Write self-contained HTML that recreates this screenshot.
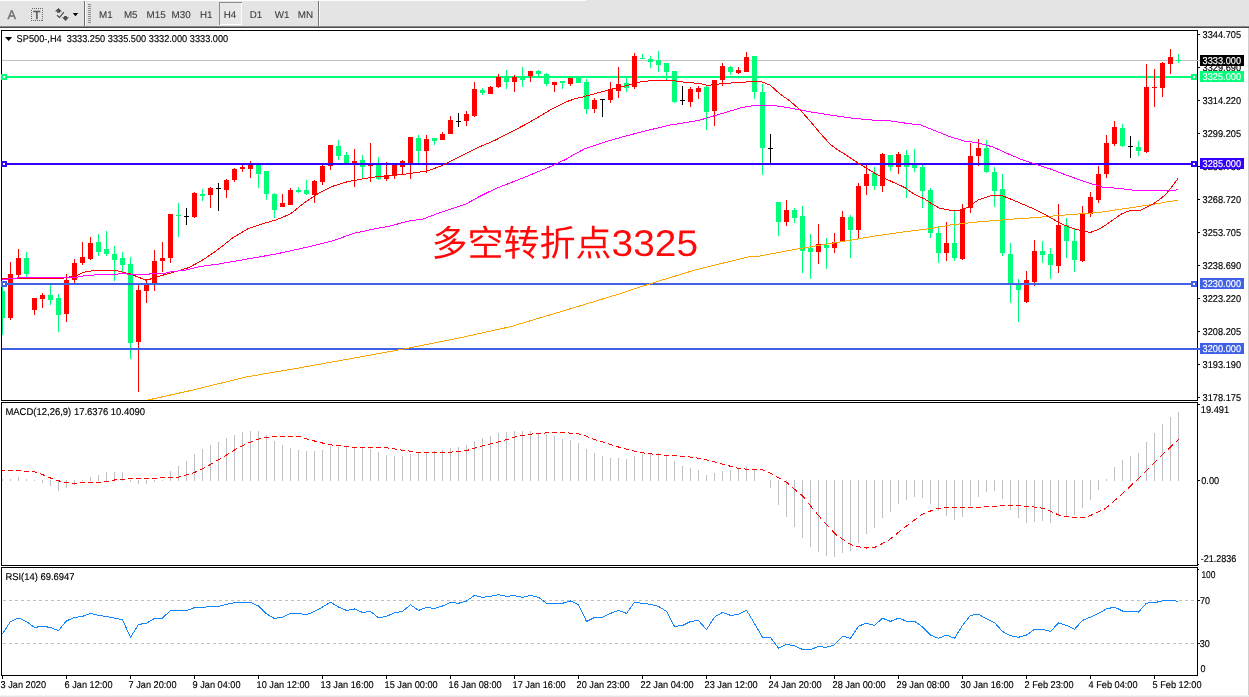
<!DOCTYPE html>
<html><head><meta charset="utf-8"><title>SP500-,H4</title>
<style>
html,body{margin:0;padding:0;background:#fff}
body{width:1249px;height:697px;overflow:hidden}
svg{display:block;will-change:transform;transform:translateZ(0)}
text{font-family:"Liberation Sans","Noto Sans CJK SC",sans-serif;font-size:9px;fill:#000;stroke:#000;stroke-width:.15px;text-rendering:geometricPrecision}
.cr{shape-rendering:crispEdges}
.tb{fill:#3c3c3c;stroke:#3c3c3c;stroke-width:.1px}
.w{fill:#fff;stroke:#fff}
</style></head><body>
<svg width="1249" height="697" viewBox="0 0 1249 697">
<rect x="0" y="0" width="1249" height="697" fill="#fff"/>
<g class="cr">
<rect x="0" y="0" width="1249" height="26" fill="#e4e4e4"/>
<rect x="0" y="0" width="586" height="1" fill="#fdfdfd"/>
<rect x="0" y="26" width="1249" height="1" fill="#8a8a8a"/>
<rect x="0" y="27" width="1249" height="1" fill="#4a4a4a"/>
<rect x="0" y="695" width="1249" height="1" fill="#f4f4f4"/><rect x="0" y="696" width="1249" height="1" fill="#e6e6e6"/>
<rect x="1248" y="28" width="1" height="667" fill="#d0d0d0"/>
<rect x="84" y="1" width="1" height="25" fill="#707070"/><rect x="85" y="1" width="1" height="25" fill="#fafafa"/>
<rect x="318" y="1" width="1" height="25" fill="#757575"/><rect x="319" y="1" width="1" height="25" fill="#fafafa"/>
<rect x="88" y="4" width="3" height="1" fill="#8c8c8c"/><rect x="88" y="6" width="3" height="1" fill="#8c8c8c"/><rect x="88" y="8" width="3" height="1" fill="#8c8c8c"/><rect x="88" y="10" width="3" height="1" fill="#8c8c8c"/><rect x="88" y="12" width="3" height="1" fill="#8c8c8c"/><rect x="88" y="14" width="3" height="1" fill="#8c8c8c"/><rect x="88" y="16" width="3" height="1" fill="#8c8c8c"/><rect x="88" y="18" width="3" height="1" fill="#8c8c8c"/><rect x="88" y="20" width="3" height="1" fill="#8c8c8c"/><rect x="88" y="22" width="3" height="1" fill="#8c8c8c"/>
<rect x="219" y="2" width="23" height="23" fill="#e8e8e8"/><rect x="219" y="2" width="23" height="1" fill="#8c8c8c"/><rect x="219" y="2" width="1" height="23" fill="#8c8c8c"/><rect x="241" y="3" width="1" height="22" fill="#fff"/><rect x="220" y="24" width="22" height="1" fill="#fff"/>
</g>
<text x="7.6" y="19" style="font-size:12.6px;fill:#6e6e6e;stroke:#6e6e6e;stroke-width:.35">A</text>
<rect class="cr" x="31.5" y="8.5" width="11" height="12" fill="none" stroke="#666" stroke-width="1" stroke-dasharray="1 1"/>
<text x="33.2" y="18.8" style="font-size:11.5px;fill:#5a5a5a;stroke:#5a5a5a;stroke-width:.5">T</text>
<path d="M58.5 8 L62 11.6 L60 11.6 L60 12.7 L57.1 12.7 L57.1 11.6 L54.9 11.6 Z" fill="#4d4d4d"/>
<path d="M65.5 20.9 L69 17.2 L66.9 17.2 L66.9 16 L64.1 16 L64.1 17.2 L62 17.2 Z" fill="#4d4d4d"/>
<path d="M57 15.3 L59.5 17.4 L63.9 12.2" fill="none" stroke="#4d4d4d" stroke-width="1.2"/>
<path d="M72.8 13.1 L78.2 13.1 L75.5 16.2 Z" fill="#000"/>
<text class="tb" x="99.0" y="17.9" textLength="13.6" lengthAdjust="spacingAndGlyphs" style="font-size:9.9px">M1</text><text class="tb" x="123.9" y="17.9" textLength="13.6" lengthAdjust="spacingAndGlyphs" style="font-size:9.9px">M5</text><text class="tb" x="146.5" y="17.9" textLength="19.1" lengthAdjust="spacingAndGlyphs" style="font-size:9.9px">M15</text><text class="tb" x="171.5" y="17.9" textLength="19.1" lengthAdjust="spacingAndGlyphs" style="font-size:9.9px">M30</text><text class="tb" x="199.89999999999998" y="17.9" textLength="12.5" lengthAdjust="spacingAndGlyphs" style="font-size:9.9px">H1</text><text class="tb" x="223.7" y="17.9" textLength="12.5" lengthAdjust="spacingAndGlyphs" style="font-size:9.9px">H4</text><text class="tb" x="249.7" y="17.9" textLength="12.5" lengthAdjust="spacingAndGlyphs" style="font-size:9.9px">D1</text><text class="tb" x="274.7" y="17.9" textLength="14.7" lengthAdjust="spacingAndGlyphs" style="font-size:9.9px">W1</text><text class="tb" x="297.7" y="17.9" textLength="15.3" lengthAdjust="spacingAndGlyphs" style="font-size:9.9px">MN</text>
<g class="cr" fill="none" stroke="#000" stroke-width="1">
<path d="M1.5 401 V30.5 H1197.5 V401 M1 400.5 H1198"/>
<path d="M1.5 566 V402.5 H1197.5 V566 M1 565.5 H1198"/>
<path d="M1.5 676 V567.5 H1197.5 V676 M1 675.5 H1198"/>
</g>
<defs><clipPath id="cm"><rect x="2" y="31" width="1195" height="369"/></clipPath></defs>
<g class="cr">
<rect x="2" y="60" width="1198" height="1" fill="#c0c0c0"/>
<rect x="2" y="76" width="1195" height="2" fill="#00ff78"/>
<rect x="1191" y="74" width="6" height="6" fill="#00ff78"/><rect x="1193" y="76" width="2" height="2" fill="#fff"/><rect x="1" y="74" width="6" height="6" fill="#00ff78"/><rect x="3" y="76" width="2" height="2" fill="#fff"/>
<rect x="2" y="287" width="1" height="48" fill="#00ff78"/><rect x="2" y="291" width="3" height="27" fill="#00ff78"/><rect x="10" y="262" width="1" height="58" fill="#ff0000"/><rect x="8" y="274" width="5" height="44" fill="#ff0000"/><rect x="18" y="249" width="1" height="29" fill="#ff0000"/><rect x="16" y="258" width="5" height="17" fill="#ff0000"/><rect x="26" y="252" width="1" height="25" fill="#00ff78"/><rect x="24" y="258" width="5" height="16" fill="#00ff78"/><rect x="34" y="298" width="1" height="17" fill="#ff0000"/><rect x="32" y="298" width="5" height="12" fill="#ff0000"/><rect x="42" y="293" width="1" height="15" fill="#ff0000"/><rect x="40" y="295" width="5" height="4" fill="#ff0000"/><rect x="50" y="285" width="1" height="20" fill="#00ff78"/><rect x="48" y="295" width="5" height="5" fill="#00ff78"/><rect x="58" y="294" width="1" height="38" fill="#00ff78"/><rect x="56" y="298" width="5" height="17" fill="#00ff78"/><rect x="66" y="274" width="1" height="48" fill="#ff0000"/><rect x="64" y="280" width="5" height="34" fill="#ff0000"/><rect x="74" y="259" width="1" height="24" fill="#ff0000"/><rect x="72" y="263" width="5" height="17" fill="#ff0000"/><rect x="82" y="242" width="1" height="23" fill="#ff0000"/><rect x="80" y="257" width="5" height="6" fill="#ff0000"/><rect x="90" y="237" width="1" height="23" fill="#ff0000"/><rect x="88" y="243" width="5" height="16" fill="#ff0000"/><rect x="98" y="234" width="1" height="22" fill="#00ff78"/><rect x="96" y="242" width="5" height="10" fill="#00ff78"/><rect x="106" y="231" width="1" height="25" fill="#00ff78"/><rect x="104" y="249" width="5" height="5" fill="#00ff78"/><rect x="114" y="246" width="1" height="35" fill="#00ff78"/><rect x="112" y="254" width="5" height="6" fill="#00ff78"/><rect x="122" y="252" width="1" height="21" fill="#00ff78"/><rect x="120" y="258" width="5" height="7" fill="#00ff78"/><rect x="130" y="257" width="1" height="102" fill="#00ff78"/><rect x="128" y="264" width="5" height="79" fill="#00ff78"/><rect x="138" y="285" width="1" height="107" fill="#ff0000"/><rect x="136" y="290" width="5" height="52" fill="#ff0000"/><rect x="146" y="279" width="1" height="24" fill="#ff0000"/><rect x="144" y="283" width="5" height="8" fill="#ff0000"/><rect x="154" y="250" width="1" height="41" fill="#ff0000"/><rect x="152" y="261" width="5" height="23" fill="#ff0000"/><rect x="162" y="242" width="1" height="30" fill="#ff0000"/><rect x="160" y="258" width="5" height="3" fill="#ff0000"/><rect x="170" y="214" width="1" height="49" fill="#ff0000"/><rect x="168" y="214" width="5" height="44" fill="#ff0000"/><rect x="178" y="203" width="1" height="34" fill="#00ff78"/><rect x="176" y="215" width="5" height="1" fill="#00ff78"/><rect x="186" y="208" width="1" height="17" fill="#000000"/><rect x="184" y="216" width="5" height="1" fill="#000000"/><rect x="194" y="192" width="1" height="26" fill="#ff0000"/><rect x="192" y="193" width="5" height="24" fill="#ff0000"/><rect x="202" y="189" width="1" height="12" fill="#00ff78"/><rect x="200" y="194" width="5" height="2" fill="#00ff78"/><rect x="210" y="187" width="1" height="21" fill="#ff0000"/><rect x="208" y="188" width="5" height="7" fill="#ff0000"/><rect x="218" y="183" width="1" height="28" fill="#000000"/><rect x="216" y="188" width="5" height="1" fill="#000000"/><rect x="226" y="179" width="1" height="19" fill="#ff0000"/><rect x="224" y="180" width="5" height="10" fill="#ff0000"/><rect x="234" y="168" width="1" height="14" fill="#ff0000"/><rect x="232" y="169" width="5" height="11" fill="#ff0000"/><rect x="242" y="164" width="1" height="8" fill="#ff0000"/><rect x="240" y="167" width="5" height="2" fill="#ff0000"/><rect x="250" y="161" width="1" height="17" fill="#ff0000"/><rect x="248" y="164" width="5" height="5" fill="#ff0000"/><rect x="258" y="164" width="1" height="24" fill="#00ff78"/><rect x="256" y="164" width="5" height="10" fill="#00ff78"/><rect x="266" y="171" width="1" height="29" fill="#00ff78"/><rect x="264" y="171" width="5" height="23" fill="#00ff78"/><rect x="274" y="193" width="1" height="25" fill="#00ff78"/><rect x="272" y="194" width="5" height="16" fill="#00ff78"/><rect x="282" y="194" width="1" height="13" fill="#ff0000"/><rect x="280" y="203" width="5" height="4" fill="#ff0000"/><rect x="290" y="188" width="1" height="17" fill="#ff0000"/><rect x="288" y="190" width="5" height="15" fill="#ff0000"/><rect x="298" y="187" width="1" height="6" fill="#00ff78"/><rect x="296" y="190" width="5" height="2" fill="#00ff78"/><rect x="306" y="180" width="1" height="15" fill="#00ff78"/><rect x="304" y="190" width="5" height="4" fill="#00ff78"/><rect x="314" y="180" width="1" height="23" fill="#ff0000"/><rect x="312" y="181" width="5" height="14" fill="#ff0000"/><rect x="322" y="165" width="1" height="20" fill="#ff0000"/><rect x="320" y="166" width="5" height="16" fill="#ff0000"/><rect x="330" y="145" width="1" height="25" fill="#ff0000"/><rect x="328" y="145" width="5" height="21" fill="#ff0000"/><rect x="338" y="140" width="1" height="20" fill="#00ff78"/><rect x="336" y="146" width="5" height="10" fill="#00ff78"/><rect x="346" y="152" width="1" height="12" fill="#00ff78"/><rect x="344" y="155" width="5" height="9" fill="#00ff78"/><rect x="354" y="149" width="1" height="38" fill="#ff0000"/><rect x="352" y="161" width="5" height="2" fill="#ff0000"/><rect x="362" y="155" width="1" height="23" fill="#00ff78"/><rect x="360" y="160" width="5" height="7" fill="#00ff78"/><rect x="370" y="143" width="1" height="39" fill="#ff0000"/><rect x="368" y="164" width="5" height="2" fill="#ff0000"/><rect x="378" y="157" width="1" height="23" fill="#00ff78"/><rect x="376" y="164" width="5" height="15" fill="#00ff78"/><rect x="386" y="162" width="1" height="19" fill="#ff0000"/><rect x="384" y="175" width="5" height="4" fill="#ff0000"/><rect x="394" y="164" width="1" height="15" fill="#ff0000"/><rect x="392" y="165" width="5" height="11" fill="#ff0000"/><rect x="402" y="160" width="1" height="15" fill="#ff0000"/><rect x="400" y="161" width="5" height="6" fill="#ff0000"/><rect x="410" y="137" width="1" height="42" fill="#ff0000"/><rect x="408" y="137" width="5" height="28" fill="#ff0000"/><rect x="418" y="135" width="1" height="29" fill="#00ff78"/><rect x="416" y="138" width="5" height="13" fill="#00ff78"/><rect x="426" y="135" width="1" height="38" fill="#ff0000"/><rect x="424" y="139" width="5" height="12" fill="#ff0000"/><rect x="434" y="138" width="1" height="7" fill="#00ff78"/><rect x="432" y="138" width="5" height="3" fill="#00ff78"/><rect x="442" y="132" width="1" height="8" fill="#ff0000"/><rect x="440" y="134" width="5" height="6" fill="#ff0000"/><rect x="450" y="116" width="1" height="18" fill="#ff0000"/><rect x="448" y="120" width="5" height="14" fill="#ff0000"/><rect x="458" y="113" width="1" height="14" fill="#000000"/><rect x="456" y="121" width="5" height="1" fill="#000000"/><rect x="466" y="111" width="1" height="15" fill="#ff0000"/><rect x="464" y="114" width="5" height="7" fill="#ff0000"/><rect x="474" y="82" width="1" height="35" fill="#ff0000"/><rect x="472" y="89" width="5" height="27" fill="#ff0000"/><rect x="482" y="88" width="1" height="7" fill="#00ff78"/><rect x="480" y="90" width="5" height="3" fill="#00ff78"/><rect x="490" y="86" width="1" height="8" fill="#ff0000"/><rect x="488" y="87" width="5" height="7" fill="#ff0000"/><rect x="498" y="74" width="1" height="14" fill="#ff0000"/><rect x="496" y="77" width="5" height="10" fill="#ff0000"/><rect x="506" y="70" width="1" height="19" fill="#00ff78"/><rect x="504" y="77" width="5" height="5" fill="#00ff78"/><rect x="514" y="75" width="1" height="17" fill="#ff0000"/><rect x="512" y="77" width="5" height="5" fill="#ff0000"/><rect x="522" y="67" width="1" height="20" fill="#00ff78"/><rect x="520" y="77" width="5" height="3" fill="#00ff78"/><rect x="530" y="71" width="1" height="11" fill="#ff0000"/><rect x="528" y="71" width="5" height="5" fill="#ff0000"/><rect x="538" y="70" width="1" height="6" fill="#00ff78"/><rect x="536" y="71" width="5" height="3" fill="#00ff78"/><rect x="546" y="73" width="1" height="13" fill="#00ff78"/><rect x="544" y="74" width="5" height="10" fill="#00ff78"/><rect x="554" y="82" width="1" height="10" fill="#ff0000"/><rect x="552" y="82" width="5" height="3" fill="#ff0000"/><rect x="562" y="81" width="1" height="8" fill="#00ff78"/><rect x="560" y="81" width="5" height="2" fill="#00ff78"/><rect x="570" y="78" width="1" height="8" fill="#ff0000"/><rect x="568" y="78" width="5" height="6" fill="#ff0000"/><rect x="578" y="77" width="1" height="6" fill="#00ff78"/><rect x="576" y="77" width="5" height="6" fill="#00ff78"/><rect x="586" y="79" width="1" height="35" fill="#00ff78"/><rect x="584" y="82" width="5" height="27" fill="#00ff78"/><rect x="594" y="98" width="1" height="15" fill="#ff0000"/><rect x="592" y="100" width="5" height="9" fill="#ff0000"/><rect x="602" y="99" width="1" height="18" fill="#000000"/><rect x="600" y="99" width="5" height="1" fill="#000000"/><rect x="610" y="82" width="1" height="21" fill="#ff0000"/><rect x="608" y="89" width="5" height="11" fill="#ff0000"/><rect x="618" y="67" width="1" height="31" fill="#ff0000"/><rect x="616" y="84" width="5" height="7" fill="#ff0000"/><rect x="626" y="77" width="1" height="15" fill="#00ff78"/><rect x="624" y="83" width="5" height="5" fill="#00ff78"/><rect x="634" y="53" width="1" height="36" fill="#ff0000"/><rect x="632" y="56" width="5" height="31" fill="#ff0000"/><rect x="642" y="54" width="1" height="5" fill="#00ff78"/><rect x="640" y="58" width="5" height="1" fill="#00ff78"/><rect x="650" y="56" width="1" height="12" fill="#00ff78"/><rect x="648" y="59" width="5" height="3" fill="#00ff78"/><rect x="658" y="51" width="1" height="21" fill="#00ff78"/><rect x="656" y="60" width="5" height="5" fill="#00ff78"/><rect x="666" y="63" width="1" height="17" fill="#00ff78"/><rect x="664" y="63" width="5" height="9" fill="#00ff78"/><rect x="674" y="71" width="1" height="32" fill="#00ff78"/><rect x="672" y="71" width="5" height="31" fill="#00ff78"/><rect x="682" y="86" width="1" height="19" fill="#000000"/><rect x="680" y="100" width="5" height="1" fill="#000000"/><rect x="690" y="87" width="1" height="20" fill="#ff0000"/><rect x="688" y="89" width="5" height="13" fill="#ff0000"/><rect x="698" y="86" width="1" height="13" fill="#ff0000"/><rect x="696" y="88" width="5" height="4" fill="#ff0000"/><rect x="706" y="85" width="1" height="45" fill="#00ff78"/><rect x="704" y="87" width="5" height="25" fill="#00ff78"/><rect x="714" y="80" width="1" height="46" fill="#ff0000"/><rect x="712" y="80" width="5" height="31" fill="#ff0000"/><rect x="722" y="63" width="1" height="23" fill="#ff0000"/><rect x="720" y="66" width="5" height="14" fill="#ff0000"/><rect x="730" y="66" width="1" height="9" fill="#00ff78"/><rect x="728" y="67" width="5" height="5" fill="#00ff78"/><rect x="738" y="67" width="1" height="7" fill="#ff0000"/><rect x="736" y="70" width="5" height="3" fill="#ff0000"/><rect x="746" y="52" width="1" height="20" fill="#ff0000"/><rect x="744" y="57" width="5" height="15" fill="#ff0000"/><rect x="754" y="56" width="1" height="43" fill="#00ff78"/><rect x="752" y="56" width="5" height="36" fill="#00ff78"/><rect x="762" y="84" width="1" height="91" fill="#00ff78"/><rect x="760" y="92" width="5" height="56" fill="#00ff78"/><rect x="770" y="134" width="1" height="29" fill="#000000"/><rect x="768" y="148" width="5" height="1" fill="#000000"/><rect x="778" y="202" width="1" height="34" fill="#00ff78"/><rect x="776" y="202" width="5" height="20" fill="#00ff78"/><rect x="786" y="200" width="1" height="26" fill="#ff0000"/><rect x="784" y="210" width="5" height="12" fill="#ff0000"/><rect x="794" y="208" width="1" height="15" fill="#00ff78"/><rect x="792" y="210" width="5" height="8" fill="#00ff78"/><rect x="802" y="206" width="1" height="67" fill="#00ff78"/><rect x="800" y="216" width="5" height="35" fill="#00ff78"/><rect x="810" y="234" width="1" height="45" fill="#00ff78"/><rect x="808" y="248" width="5" height="4" fill="#00ff78"/><rect x="818" y="224" width="1" height="40" fill="#ff0000"/><rect x="816" y="244" width="5" height="8" fill="#ff0000"/><rect x="826" y="238" width="1" height="31" fill="#00ff78"/><rect x="824" y="245" width="5" height="3" fill="#00ff78"/><rect x="834" y="233" width="1" height="20" fill="#ff0000"/><rect x="832" y="242" width="5" height="6" fill="#ff0000"/><rect x="842" y="211" width="1" height="31" fill="#ff0000"/><rect x="840" y="217" width="5" height="25" fill="#ff0000"/><rect x="850" y="215" width="1" height="43" fill="#00ff78"/><rect x="848" y="217" width="5" height="13" fill="#00ff78"/><rect x="858" y="183" width="1" height="55" fill="#ff0000"/><rect x="856" y="186" width="5" height="44" fill="#ff0000"/><rect x="866" y="164" width="1" height="31" fill="#ff0000"/><rect x="864" y="174" width="5" height="12" fill="#ff0000"/><rect x="874" y="167" width="1" height="23" fill="#00ff78"/><rect x="872" y="173" width="5" height="13" fill="#00ff78"/><rect x="882" y="153" width="1" height="39" fill="#ff0000"/><rect x="880" y="154" width="5" height="32" fill="#ff0000"/><rect x="890" y="155" width="1" height="16" fill="#00ff78"/><rect x="888" y="155" width="5" height="12" fill="#00ff78"/><rect x="898" y="152" width="1" height="22" fill="#ff0000"/><rect x="896" y="154" width="5" height="13" fill="#ff0000"/><rect x="906" y="150" width="1" height="48" fill="#00ff78"/><rect x="904" y="155" width="5" height="12" fill="#00ff78"/><rect x="914" y="149" width="1" height="23" fill="#00ff78"/><rect x="912" y="164" width="5" height="4" fill="#00ff78"/><rect x="922" y="165" width="1" height="43" fill="#00ff78"/><rect x="920" y="167" width="5" height="24" fill="#00ff78"/><rect x="930" y="188" width="1" height="50" fill="#00ff78"/><rect x="928" y="190" width="5" height="43" fill="#00ff78"/><rect x="938" y="226" width="1" height="37" fill="#00ff78"/><rect x="936" y="233" width="5" height="20" fill="#00ff78"/><rect x="946" y="222" width="1" height="39" fill="#ff0000"/><rect x="944" y="243" width="5" height="10" fill="#ff0000"/><rect x="954" y="210" width="1" height="51" fill="#00ff78"/><rect x="952" y="243" width="5" height="15" fill="#00ff78"/><rect x="962" y="204" width="1" height="56" fill="#ff0000"/><rect x="960" y="209" width="5" height="50" fill="#ff0000"/><rect x="970" y="143" width="1" height="70" fill="#ff0000"/><rect x="968" y="156" width="5" height="52" fill="#ff0000"/><rect x="978" y="139" width="1" height="27" fill="#ff0000"/><rect x="976" y="148" width="5" height="8" fill="#ff0000"/><rect x="986" y="140" width="1" height="33" fill="#00ff78"/><rect x="984" y="148" width="5" height="24" fill="#00ff78"/><rect x="994" y="167" width="1" height="40" fill="#00ff78"/><rect x="992" y="172" width="5" height="19" fill="#00ff78"/><rect x="1002" y="174" width="1" height="82" fill="#00ff78"/><rect x="1000" y="189" width="5" height="64" fill="#00ff78"/><rect x="1010" y="243" width="1" height="60" fill="#00ff78"/><rect x="1008" y="254" width="5" height="30" fill="#00ff78"/><rect x="1018" y="279" width="1" height="43" fill="#00ff78"/><rect x="1016" y="285" width="5" height="5" fill="#00ff78"/><rect x="1026" y="271" width="1" height="32" fill="#ff0000"/><rect x="1024" y="280" width="5" height="22" fill="#ff0000"/><rect x="1034" y="240" width="1" height="46" fill="#ff0000"/><rect x="1032" y="251" width="5" height="31" fill="#ff0000"/><rect x="1042" y="241" width="1" height="22" fill="#00ff78"/><rect x="1040" y="251" width="5" height="4" fill="#00ff78"/><rect x="1050" y="248" width="1" height="31" fill="#00ff78"/><rect x="1048" y="254" width="5" height="11" fill="#00ff78"/><rect x="1058" y="204" width="1" height="69" fill="#ff0000"/><rect x="1056" y="225" width="5" height="41" fill="#ff0000"/><rect x="1066" y="218" width="1" height="40" fill="#00ff78"/><rect x="1064" y="225" width="5" height="16" fill="#00ff78"/><rect x="1074" y="229" width="1" height="43" fill="#00ff78"/><rect x="1072" y="241" width="5" height="19" fill="#00ff78"/><rect x="1082" y="206" width="1" height="56" fill="#ff0000"/><rect x="1080" y="213" width="5" height="48" fill="#ff0000"/><rect x="1090" y="192" width="1" height="25" fill="#ff0000"/><rect x="1088" y="197" width="5" height="17" fill="#ff0000"/><rect x="1098" y="166" width="1" height="37" fill="#ff0000"/><rect x="1096" y="174" width="5" height="26" fill="#ff0000"/><rect x="1106" y="135" width="1" height="43" fill="#ff0000"/><rect x="1104" y="143" width="5" height="31" fill="#ff0000"/><rect x="1114" y="121" width="1" height="25" fill="#ff0000"/><rect x="1112" y="127" width="5" height="17" fill="#ff0000"/><rect x="1122" y="124" width="1" height="23" fill="#00ff78"/><rect x="1120" y="128" width="5" height="18" fill="#00ff78"/><rect x="1130" y="136" width="1" height="22" fill="#000000"/><rect x="1128" y="146" width="5" height="1" fill="#000000"/><rect x="1138" y="141" width="1" height="15" fill="#00ff78"/><rect x="1136" y="147" width="5" height="4" fill="#00ff78"/><rect x="1146" y="64" width="1" height="89" fill="#ff0000"/><rect x="1144" y="87" width="5" height="65" fill="#ff0000"/><rect x="1154" y="69" width="1" height="38" fill="#ff0000"/><rect x="1152" y="87" width="5" height="1" fill="#ff0000"/><rect x="1162" y="62" width="1" height="35" fill="#ff0000"/><rect x="1160" y="63" width="5" height="25" fill="#ff0000"/><rect x="1170" y="49" width="1" height="25" fill="#ff0000"/><rect x="1168" y="57" width="5" height="7" fill="#ff0000"/><rect x="1178" y="54" width="1" height="9" fill="#00ff78"/><rect x="1176" y="60" width="5" height="1" fill="#00ff78"/>
<rect x="2" y="163" width="1195" height="2" fill="#3300ff"/>
<rect x="2" y="283" width="1195" height="2" fill="#4060e6"/>
<rect x="2" y="348" width="1198" height="2" fill="#4060e6"/>
<rect x="1191" y="161" width="6" height="6" fill="#3300ff"/><rect x="1193" y="163" width="2" height="2" fill="#fff"/><rect x="1191" y="281" width="6" height="6" fill="#4060e6"/><rect x="1193" y="283" width="2" height="2" fill="#fff"/><rect x="1" y="161" width="6" height="6" fill="#3300ff"/><rect x="3" y="163" width="2" height="2" fill="#fff"/><rect x="1" y="281" width="6" height="6" fill="#4060e6"/><rect x="3" y="283" width="2" height="2" fill="#fff"/>
</g>
<g clip-path="url(#cm)">
<polyline points="148.0,400.0 193.0,390.0 246.0,377.0 298.6,368.0 351.0,358.6 404.0,349.0 457.0,338.5 510.0,326.8 563.0,311.0 615.7,295.0 652.7,283.0 695.0,270.0 748.0,257.0 760.0,256.0 788.7,250.5 817.4,245.6 846.0,241.0 874.8,236.0 903.5,231.9 932.0,228.4 950.0,225.0 978.7,221.8 1007.4,219.5 1036.0,217.5 1064.8,215.0 1093.5,212.9 1100.0,212.3 1117.2,209.7 1134.4,207.2 1151.6,204.6 1168.8,201.6 1178.0,200.3" fill="none" stroke="#ffa500" stroke-width="1" class="cr"/>
<polyline points="0.0,278.5 62.0,278.5 66.0,277.6 72.0,276.5 78.0,275.0 82.0,273.0 86.0,271.8 92.0,270.8 100.0,270.3 115.0,270.3 130.6,274.0 146.3,280.3 163.5,275.0 178.0,271.0 189.4,267.4 204.3,259.0 218.7,249.0 233.0,237.7 247.4,229.0 261.7,224.0 276.0,220.0 290.4,214.0 304.8,202.4 319.0,193.0 333.5,186.0 347.8,181.6 354.0,180.5 366.0,178.3 378.0,176.6 390.0,175.6 402.0,174.5 414.0,172.9 426.0,171.2 434.0,168.6 442.9,165.2 452.0,160.6 462.0,155.6 471.0,151.0 480.4,146.5 494.8,140.4 509.0,133.0 523.5,125.5 537.8,117.5 552.0,108.9 566.5,101.7 575.0,98.8 584.3,96.6 598.7,92.6 613.0,88.8 627.4,85.4 641.7,81.6 656.0,80.2 670.4,80.2 684.8,82.2 699.0,83.4 707.7,85.4 719.2,84.0 730.7,83.0 742.0,82.5 754.0,81.0 762.0,82.0 770.0,85.0 780.0,94.0 790.0,101.0 800.0,109.8 810.0,121.0 820.0,133.0 830.0,144.0 836.4,149.0 844.4,154.0 856.5,162.0 868.5,169.5 880.6,176.5 892.6,182.0 904.7,187.5 914.7,194.6 924.8,199.0 932.0,204.0 939.3,208.0 949.4,210.0 958.6,211.0 967.2,207.5 978.7,199.7 990.0,196.0 1001.6,195.4 1013.0,200.0 1024.6,205.0 1036.0,209.8 1047.6,216.0 1059.0,222.7 1070.5,227.6 1082.0,231.0 1090.6,232.4 1099.2,229.0 1106.0,224.8 1112.9,220.0 1121.5,214.0 1129.3,210.8 1139.6,210.6 1146.5,207.2 1153.4,203.7 1160.2,199.0 1166.3,193.8 1171.4,187.4 1178.0,178.6" fill="none" stroke="#ff0000" stroke-width="1" class="cr"/>
<polyline points="0.0,280.3 5.0,279.4 12.0,278.6 20.0,277.7 30.0,277.4 77.0,277.3 80.0,276.2 86.0,275.8 88.0,275.2 100.0,274.8 117.5,274.5 118.5,273.5 126.5,273.5 127.5,274.5 149.0,274.5 150.0,273.5 165.5,273.5 166.5,272.4 186.5,270.0 200.0,266.5 218.7,264.0 247.4,259.0 276.0,254.0 304.8,247.7 333.5,240.6 353.5,233.4 376.5,228.5 390.0,226.0 408.7,221.0 423.0,219.0 437.4,213.6 466.0,204.0 480.4,196.0 494.8,189.0 523.5,177.7 552.0,166.0 566.5,159.0 575.0,154.0 584.3,149.0 598.7,144.0 613.0,139.6 627.4,135.6 641.7,131.9 656.0,128.4 670.4,125.0 684.8,122.7 699.0,120.4 713.5,116.0 727.8,111.8 742.0,107.5 752.0,105.8 764.0,105.0 776.0,105.8 790.0,108.0 810.0,111.8 830.0,115.0 850.5,118.0 870.5,119.9 890.6,121.0 910.7,123.9 920.8,125.0 930.8,129.0 940.8,133.0 950.9,137.0 964.3,141.0 978.7,143.0 993.0,147.0 1007.4,153.5 1021.7,159.6 1036.0,164.4 1050.4,169.0 1064.8,174.5 1079.0,179.6 1093.5,184.5 1100.0,186.0 1103.0,187.4 1119.0,188.3 1127.0,189.4 1135.3,190.5 1174.0,190.5 1178.0,189.6" fill="none" stroke="#ff00ff" stroke-width="1" class="cr"/>
</g>
<text x="431.6" y="256.3" style="font-size:36px;fill:#ff0a0a;stroke:none">多空转折点<tspan style="font-size:37.2px" textLength="86.4" lengthAdjust="spacingAndGlyphs">3325</tspan></text>
<path d="M5 37 L12.2 37 L8.6 40.9 Z" fill="#000"/>
<text x="16.6" y="41.8" textLength="211.6" lengthAdjust="spacingAndGlyphs" style="font-size:9.9px">SP500-,H4&#160; 3333.250 3335.500 3332.000 3333.000</text>
<g class="cr">
<rect x="1198" y="34" width="2" height="1" fill="#000"/><rect x="1198" y="67" width="2" height="1" fill="#000"/><rect x="1198" y="100" width="2" height="1" fill="#000"/><rect x="1198" y="133" width="2" height="1" fill="#000"/><rect x="1198" y="166" width="2" height="1" fill="#000"/><rect x="1198" y="199" width="2" height="1" fill="#000"/><rect x="1198" y="232" width="2" height="1" fill="#000"/><rect x="1198" y="265" width="2" height="1" fill="#000"/><rect x="1198" y="298" width="2" height="1" fill="#000"/><rect x="1198" y="331" width="2" height="1" fill="#000"/><rect x="1198" y="364" width="2" height="1" fill="#000"/><rect x="1198" y="397" width="2" height="1" fill="#000"/>
</g>
<text x="1202.6" y="37.8" textLength="38.5" lengthAdjust="spacingAndGlyphs" style="font-size:9.9px">3344.705</text><text x="1202.6" y="70.8" textLength="38.5" lengthAdjust="spacingAndGlyphs" style="font-size:9.9px">3329.690</text><text x="1202.6" y="103.8" textLength="38.5" lengthAdjust="spacingAndGlyphs" style="font-size:9.9px">3314.220</text><text x="1202.6" y="136.8" textLength="38.5" lengthAdjust="spacingAndGlyphs" style="font-size:9.9px">3299.205</text><text x="1202.6" y="169.8" textLength="38.5" lengthAdjust="spacingAndGlyphs" style="font-size:9.9px">3283.735</text><text x="1202.6" y="202.8" textLength="38.5" lengthAdjust="spacingAndGlyphs" style="font-size:9.9px">3268.720</text><text x="1202.6" y="235.8" textLength="38.5" lengthAdjust="spacingAndGlyphs" style="font-size:9.9px">3253.705</text><text x="1202.6" y="268.8" textLength="38.5" lengthAdjust="spacingAndGlyphs" style="font-size:9.9px">3238.690</text><text x="1202.6" y="301.8" textLength="38.5" lengthAdjust="spacingAndGlyphs" style="font-size:9.9px">3223.220</text><text x="1202.6" y="334.8" textLength="38.5" lengthAdjust="spacingAndGlyphs" style="font-size:9.9px">3208.205</text><text x="1202.6" y="367.8" textLength="38.5" lengthAdjust="spacingAndGlyphs" style="font-size:9.9px">3193.190</text><text x="1202.6" y="400.8" textLength="38.5" lengthAdjust="spacingAndGlyphs" style="font-size:9.9px">3178.175</text>
<rect class="cr" x="1200" y="55" width="44" height="11" fill="#000"/><text class="w" x="1202.6" y="63.8" textLength="38.5" lengthAdjust="spacingAndGlyphs" style="font-size:9.9px">3333.000</text>
<rect class="cr" x="1200" y="71" width="44" height="11" fill="#00ff78"/><text class="w" x="1202.6" y="79.8" textLength="38.5" lengthAdjust="spacingAndGlyphs" style="font-size:9.9px">3325.000</text>
<rect class="cr" x="1200" y="158" width="44" height="11" fill="#3300ff"/><text class="w" x="1202.6" y="166.8" textLength="38.5" lengthAdjust="spacingAndGlyphs" style="font-size:9.9px">3285.000</text>
<rect class="cr" x="1200" y="278" width="44" height="11" fill="#4060e6"/><text class="w" x="1202.6" y="286.8" textLength="38.5" lengthAdjust="spacingAndGlyphs" style="font-size:9.9px">3230.000</text>
<rect class="cr" x="1200" y="343" width="44" height="11" fill="#4060e6"/><text class="w" x="1202.6" y="351.8" textLength="38.5" lengthAdjust="spacingAndGlyphs" style="font-size:9.9px">3200.000</text>
<defs><clipPath id="cd"><rect x="2" y="403" width="1195" height="162"/></clipPath><clipPath id="cr"><rect x="2" y="568" width="1195" height="107"/></clipPath></defs>
<g class="cr">
<rect x="2" y="479" width="1" height="2" fill="#c0c0c0"/><rect x="10" y="479" width="1" height="2" fill="#c0c0c0"/><rect x="18" y="477" width="1" height="4" fill="#c0c0c0"/><rect x="26" y="479" width="1" height="2" fill="#c0c0c0"/><rect x="34" y="480" width="1" height="1" fill="#c8c8c8"/><rect x="42" y="480" width="1" height="3" fill="#c0c0c0"/><rect x="50" y="480" width="1" height="6" fill="#c0c0c0"/><rect x="58" y="480" width="1" height="11" fill="#c0c0c0"/><rect x="66" y="480" width="1" height="8" fill="#c0c0c0"/><rect x="74" y="480" width="1" height="5" fill="#c0c0c0"/><rect x="82" y="480" width="1" height="1" fill="#c8c8c8"/><rect x="90" y="477" width="1" height="4" fill="#c0c0c0"/><rect x="98" y="475" width="1" height="6" fill="#c0c0c0"/><rect x="106" y="472" width="1" height="9" fill="#c0c0c0"/><rect x="114" y="472" width="1" height="9" fill="#c0c0c0"/><rect x="122" y="472" width="1" height="9" fill="#c0c0c0"/><rect x="130" y="480" width="1" height="2" fill="#c0c0c0"/><rect x="138" y="480" width="1" height="4" fill="#c0c0c0"/><rect x="146" y="480" width="1" height="4" fill="#c0c0c0"/><rect x="154" y="480" width="1" height="2" fill="#c0c0c0"/><rect x="162" y="480" width="1" height="1" fill="#c8c8c8"/><rect x="170" y="471" width="1" height="10" fill="#c0c0c0"/><rect x="178" y="466" width="1" height="15" fill="#c0c0c0"/><rect x="186" y="461" width="1" height="20" fill="#c0c0c0"/><rect x="194" y="454" width="1" height="27" fill="#c0c0c0"/><rect x="202" y="449" width="1" height="32" fill="#c0c0c0"/><rect x="210" y="445" width="1" height="36" fill="#c0c0c0"/><rect x="218" y="442" width="1" height="39" fill="#c0c0c0"/><rect x="226" y="438" width="1" height="43" fill="#c0c0c0"/><rect x="234" y="435" width="1" height="46" fill="#c0c0c0"/><rect x="242" y="432" width="1" height="49" fill="#c0c0c0"/><rect x="250" y="431" width="1" height="50" fill="#c0c0c0"/><rect x="258" y="431" width="1" height="50" fill="#c0c0c0"/><rect x="266" y="435" width="1" height="46" fill="#c0c0c0"/><rect x="274" y="441" width="1" height="40" fill="#c0c0c0"/><rect x="282" y="445" width="1" height="36" fill="#c0c0c0"/><rect x="290" y="448" width="1" height="33" fill="#c0c0c0"/><rect x="298" y="450" width="1" height="31" fill="#c0c0c0"/><rect x="306" y="451" width="1" height="30" fill="#c0c0c0"/><rect x="314" y="451" width="1" height="30" fill="#c0c0c0"/><rect x="322" y="450" width="1" height="31" fill="#c0c0c0"/><rect x="330" y="446" width="1" height="35" fill="#c0c0c0"/><rect x="338" y="447" width="1" height="34" fill="#c0c0c0"/><rect x="346" y="447" width="1" height="34" fill="#c0c0c0"/><rect x="354" y="448" width="1" height="33" fill="#c0c0c0"/><rect x="362" y="448" width="1" height="33" fill="#c0c0c0"/><rect x="370" y="449" width="1" height="32" fill="#c0c0c0"/><rect x="378" y="452" width="1" height="29" fill="#c0c0c0"/><rect x="386" y="455" width="1" height="26" fill="#c0c0c0"/><rect x="394" y="456" width="1" height="25" fill="#c0c0c0"/><rect x="402" y="456" width="1" height="25" fill="#c0c0c0"/><rect x="410" y="454" width="1" height="27" fill="#c0c0c0"/><rect x="418" y="453" width="1" height="28" fill="#c0c0c0"/><rect x="426" y="452" width="1" height="29" fill="#c0c0c0"/><rect x="434" y="451" width="1" height="30" fill="#c0c0c0"/><rect x="442" y="450" width="1" height="31" fill="#c0c0c0"/><rect x="450" y="448" width="1" height="33" fill="#c0c0c0"/><rect x="458" y="447" width="1" height="34" fill="#c0c0c0"/><rect x="466" y="445" width="1" height="36" fill="#c0c0c0"/><rect x="474" y="441" width="1" height="40" fill="#c0c0c0"/><rect x="482" y="438" width="1" height="43" fill="#c0c0c0"/><rect x="490" y="436" width="1" height="45" fill="#c0c0c0"/><rect x="498" y="433" width="1" height="48" fill="#c0c0c0"/><rect x="506" y="432" width="1" height="49" fill="#c0c0c0"/><rect x="514" y="431" width="1" height="50" fill="#c0c0c0"/><rect x="522" y="431" width="1" height="50" fill="#c0c0c0"/><rect x="530" y="431" width="1" height="50" fill="#c0c0c0"/><rect x="538" y="433" width="1" height="48" fill="#c0c0c0"/><rect x="546" y="435" width="1" height="46" fill="#c0c0c0"/><rect x="554" y="436" width="1" height="45" fill="#c0c0c0"/><rect x="562" y="439" width="1" height="42" fill="#c0c0c0"/><rect x="570" y="440" width="1" height="41" fill="#c0c0c0"/><rect x="578" y="443" width="1" height="38" fill="#c0c0c0"/><rect x="586" y="449" width="1" height="32" fill="#c0c0c0"/><rect x="594" y="453" width="1" height="28" fill="#c0c0c0"/><rect x="602" y="456" width="1" height="25" fill="#c0c0c0"/><rect x="610" y="458" width="1" height="23" fill="#c0c0c0"/><rect x="618" y="458" width="1" height="23" fill="#c0c0c0"/><rect x="626" y="459" width="1" height="22" fill="#c0c0c0"/><rect x="634" y="456" width="1" height="25" fill="#c0c0c0"/><rect x="642" y="454" width="1" height="27" fill="#c0c0c0"/><rect x="650" y="453" width="1" height="28" fill="#c0c0c0"/><rect x="658" y="453" width="1" height="28" fill="#c0c0c0"/><rect x="666" y="455" width="1" height="26" fill="#c0c0c0"/><rect x="674" y="461" width="1" height="20" fill="#c0c0c0"/><rect x="682" y="466" width="1" height="15" fill="#c0c0c0"/><rect x="690" y="468" width="1" height="13" fill="#c0c0c0"/><rect x="698" y="470" width="1" height="11" fill="#c0c0c0"/><rect x="706" y="475" width="1" height="6" fill="#c0c0c0"/><rect x="714" y="473" width="1" height="8" fill="#c0c0c0"/><rect x="722" y="471" width="1" height="10" fill="#c0c0c0"/><rect x="730" y="470" width="1" height="11" fill="#c0c0c0"/><rect x="738" y="468" width="1" height="13" fill="#c0c0c0"/><rect x="746" y="467" width="1" height="14" fill="#c0c0c0"/><rect x="754" y="470" width="1" height="11" fill="#c0c0c0"/><rect x="770" y="480" width="1" height="8" fill="#c0c0c0"/><rect x="778" y="480" width="1" height="25" fill="#c0c0c0"/><rect x="786" y="480" width="1" height="37" fill="#c0c0c0"/><rect x="794" y="480" width="1" height="47" fill="#c0c0c0"/><rect x="802" y="480" width="1" height="58" fill="#c0c0c0"/><rect x="810" y="480" width="1" height="67" fill="#c0c0c0"/><rect x="818" y="480" width="1" height="72" fill="#c0c0c0"/><rect x="826" y="480" width="1" height="76" fill="#c0c0c0"/><rect x="834" y="480" width="1" height="77" fill="#c0c0c0"/><rect x="842" y="480" width="1" height="73" fill="#c0c0c0"/><rect x="850" y="480" width="1" height="71" fill="#c0c0c0"/><rect x="858" y="480" width="1" height="63" fill="#c0c0c0"/><rect x="866" y="480" width="1" height="54" fill="#c0c0c0"/><rect x="874" y="480" width="1" height="48" fill="#c0c0c0"/><rect x="882" y="480" width="1" height="38" fill="#c0c0c0"/><rect x="890" y="480" width="1" height="32" fill="#c0c0c0"/><rect x="898" y="480" width="1" height="24" fill="#c0c0c0"/><rect x="906" y="480" width="1" height="20" fill="#c0c0c0"/><rect x="914" y="480" width="1" height="17" fill="#c0c0c0"/><rect x="922" y="480" width="1" height="18" fill="#c0c0c0"/><rect x="930" y="480" width="1" height="24" fill="#c0c0c0"/><rect x="938" y="480" width="1" height="31" fill="#c0c0c0"/><rect x="946" y="480" width="1" height="36" fill="#c0c0c0"/><rect x="954" y="480" width="1" height="40" fill="#c0c0c0"/><rect x="962" y="480" width="1" height="37" fill="#c0c0c0"/><rect x="970" y="480" width="1" height="26" fill="#c0c0c0"/><rect x="978" y="480" width="1" height="17" fill="#c0c0c0"/><rect x="986" y="480" width="1" height="12" fill="#c0c0c0"/><rect x="994" y="480" width="1" height="11" fill="#c0c0c0"/><rect x="1002" y="480" width="1" height="19" fill="#c0c0c0"/><rect x="1010" y="480" width="1" height="30" fill="#c0c0c0"/><rect x="1018" y="480" width="1" height="38" fill="#c0c0c0"/><rect x="1026" y="480" width="1" height="43" fill="#c0c0c0"/><rect x="1034" y="480" width="1" height="42" fill="#c0c0c0"/><rect x="1042" y="480" width="1" height="41" fill="#c0c0c0"/><rect x="1050" y="480" width="1" height="43" fill="#c0c0c0"/><rect x="1058" y="480" width="1" height="37" fill="#c0c0c0"/><rect x="1066" y="480" width="1" height="36" fill="#c0c0c0"/><rect x="1074" y="480" width="1" height="35" fill="#c0c0c0"/><rect x="1082" y="480" width="1" height="28" fill="#c0c0c0"/><rect x="1090" y="480" width="1" height="20" fill="#c0c0c0"/><rect x="1098" y="480" width="1" height="10" fill="#c0c0c0"/><rect x="1106" y="479" width="1" height="2" fill="#c0c0c0"/><rect x="1114" y="467" width="1" height="14" fill="#c0c0c0"/><rect x="1122" y="460" width="1" height="21" fill="#c0c0c0"/><rect x="1130" y="456" width="1" height="25" fill="#c0c0c0"/><rect x="1138" y="453" width="1" height="28" fill="#c0c0c0"/><rect x="1146" y="442" width="1" height="39" fill="#c0c0c0"/><rect x="1154" y="433" width="1" height="48" fill="#c0c0c0"/><rect x="1162" y="424" width="1" height="57" fill="#c0c0c0"/><rect x="1170" y="417" width="1" height="64" fill="#c0c0c0"/><rect x="1178" y="412" width="1" height="69" fill="#c0c0c0"/>
<rect x="1198" y="480" width="2" height="1" fill="#000"/><rect x="1198" y="404" width="2" height="1" fill="#000"/><rect x="1198" y="564" width="1" height="1" fill="#000"/><rect x="1198" y="569" width="1" height="1" fill="#000"/>
</g>
<g clip-path="url(#cd)">
<path class="cr" d="M0 470.6L2.5 470.6L5 470.6M8 470.6L10.5 470.6L13 470.6M16 470.6L18.5 470.6L21 470.7M24 471.0L26.5 471.2L29 471.5M32 471.8L34.5 472.0L37 472.3M40 473.6L42.5 474.6L45 475.7M48 477.0L50.5 478.0L53 478.9M56 479.9L58.5 480.7L61 481.5M64 482.0L66.5 482.4L69 482.8M72 483.0L74.5 483.0L77 483.0M80 482.9L82.5 482.9L85 482.9M88 482.9L90.5 482.8L93 482.8M96 482.8L98.5 482.7L101 482.7M104 482.1L106.5 481.6L109 481.1M112 480.5L114.5 480.0L117 479.8M120 479.5L122.5 479.2L125 479.0M128 478.7L130.5 478.4L133 478.2M136 478.0L138.5 478.0L141 478.0M144 478.0L146.5 478.0L149 478.0M152 478.0L154.5 478.0L157 478.0M160 477.9L162.5 477.9L165 477.8M168 477.7L170.5 477.6L173 477.5M176 477.4L178.5 477.3L181 476.5M184 475.6L186.5 474.9L189 474.1M192 473.2L194.5 472.5L197 471.3M200 469.8L202.5 468.6L205 467.3M208 465.8L210.5 464.4L213 463.0M216 461.2L218.5 459.8L221 458.4M224 456.5L226.5 455.0L229 453.4M232 451.5L234.5 450.0L237 448.6M240 447.1L242.5 445.9L245 444.6M248 443.1L250.5 442.1L253 441.1M256 440.0L258.5 439.1L261 438.1M264 437.5L266.5 437.2L269 437.0M272 436.7L274.5 436.4L277 436.3M280 436.3L282.5 436.3L285 436.3M288 436.3L290.5 436.3L293 436.3M296 436.3L298.5 436.3L301 436.9M304 437.9L306.5 438.7L309 439.6M312 440.3L314.5 441.0L317 441.6M320 442.3L322.5 443.0L325 443.6M328 444.3L330.5 444.8L333 445.1M336 445.4L338.5 445.6L341 445.9M344 446.2L346.5 446.4L349 446.7M352 447.0L354.5 447.1L357 447.2M360 447.2L362.5 447.3L365 447.3M368 447.4L370.5 447.4L373 447.5M376 447.5L378.5 447.6L381 447.6M384 447.7L386.5 447.7L389 448.1M392 448.6L394.5 449.0L397 449.4M400 449.9L402.5 450.3L405 450.5M408 450.9L410.5 451.2L413 451.6M416 452.0L418.5 452.2L421 452.3M424 452.4L426.5 452.5L429 452.6M432 452.7L434.5 452.8L437 452.7M440 452.5L442.5 452.4L445 452.3M448 452.2L450.5 452.1L453 451.9M456 451.6L458.5 451.3L461 451.1M464 450.8L466.5 450.5L469 449.9M472 449.0L474.5 448.3L477 447.5M480 446.6L482.5 445.9L485 445.2M488 444.4L490.5 443.8L493 443.2M496 442.5L498.5 441.9L501 441.3M504 440.4L506.5 439.7L509 438.9M512 438.0L514.5 437.3L517 436.5M520 435.9L522.5 435.5L525 435.1M528 434.7L530.5 434.3L533 433.9M536 433.5L538.5 433.4L541 433.2M544 433.1L546.5 432.9L549 432.8M552 432.6L554.5 432.7L557 432.7M560 432.8L562.5 432.8L565 432.9M568 432.9L570.5 433.2L573 433.4M576 433.7L578.5 434.0L581 434.2M584 435.3L586.5 436.3L589 437.3M592 438.5L594.5 439.5L597 440.3M600 441.2L602.5 441.9L605 442.7M608 443.6L610.5 444.4L613 445.2M616 446.2L618.5 447.0L621 447.8M624 448.6L626.5 449.2L629 449.9M632 450.6L634.5 451.2L637 451.7M640 452.3L642.5 452.7L645 453.1M648 453.7L650.5 453.9L653 454.1M656 454.4L658.5 454.6L661 454.8M664 455.1L666.5 455.3L669 455.5M672 455.7L674.5 455.8L677 456.0M680 456.1L682.5 456.3L685 456.4M688 456.8L690.5 457.1L693 457.5M696 457.9L698.5 458.3L701 458.6M704 459.2L706.5 459.9L709 460.5M712 461.3L714.5 461.9L717 462.6M720 463.4L722.5 464.1L725 464.8M728 465.6L730.5 466.3L733 467.0M736 467.9L738.5 468.2L741 468.5M744 468.9L746.5 469.2L749 469.5M752 469.7L754.5 469.7L757 469.8M760 469.9L762.5 469.9L765 470.8M768 472.2L770.5 473.4L773 474.5M776 476.2L778.5 477.7L781 479.1M784 480.8L786.5 482.3L789 484.4M792 487.0L794.5 489.2L797 491.4M800 494.0L802.5 495.8L805 498.9M808 502.7L810.5 505.8L813 508.9M816 512.6L818.5 515.6L821 518.4M824 521.7L826.5 524.4L829 527.2M832 530.5L834.5 533.2L837 535.5M840 537.5L842.5 539.2L845 540.9M848 542.9L850.5 544.5L853 545.2M856 545.9L858.5 546.5L861 547.2M864 547.9L866.5 548.0L869 547.8M872 547.6L874.5 547.4L877 546.5M880 544.9L882.5 543.5L885 542.1M888 540.5L890.5 538.9L893 536.9M896 534.4L898.5 532.3L901 530.3M904 527.8L906.5 525.9L909 524.1M912 521.9L914.5 520.0L917 518.2M920 515.9L922.5 514.2L925 513.2M928 512.0L930.5 511.0L933 510.0M936 508.8L938.5 508.4L941 508.1M944 507.8L946.5 507.6L949 507.3M952 507.1L954.5 507.1L957 507.1M960 507.1L962.5 507.1L965 507.1M968 507.1L970.5 507.1L973 507.1M976 507.1L978.5 507.1L981 507.0M984 506.9L986.5 506.7L989 506.5M992 506.4L994.5 506.2L997 506.0M1000 505.9L1002.5 505.7L1005 505.5M1008 505.4L1010.5 505.4L1013 505.5M1016 505.7L1018.5 505.8L1021 505.9M1024 506.1L1026.5 506.2L1029 506.3M1032 506.7L1034.5 507.1L1037 507.4M1040 507.9L1042.5 508.3L1045 508.8M1048 510.2L1050.5 511.3L1053 512.4M1056 513.8L1058.5 514.9L1061 515.5M1064 516.1L1066.5 516.6L1069 517.1M1072 517.7L1074.5 517.8L1077 517.6M1080 517.4L1082.5 517.2L1085 517.0M1088 516.6L1090.5 515.5L1093 514.3M1096 512.9L1098.5 511.8L1101 510.6M1104 509.3L1106.5 507.7L1109 505.5M1112 502.9L1114.5 500.7L1117 498.5M1120 495.8L1122.5 493.6L1125 491.3M1128 488.4L1130.5 486.0L1133 483.6M1136 480.7L1138.5 478.3L1141 475.9M1144 473.0L1146.5 470.5L1149 468.0M1152 465.0L1154.5 462.5L1157 460.0M1160 457.0L1162.5 454.6L1165 452.3M1168 449.4L1170.5 447.1L1173 444.7M1176 441.9L1177.5 440.5L1179 439.5" fill="none" stroke="#ff0000" stroke-width="1"/>
</g>
<text x="5.4" y="414.7" textLength="139.7" lengthAdjust="spacingAndGlyphs" style="font-size:9.9px">MACD(12,26,9) 17.6376 10.4090</text>
<text x="1200.8" y="413.1" textLength="28.4" lengthAdjust="spacingAndGlyphs" style="font-size:9.9px">19.491</text><text x="1201.2" y="484" textLength="18.0" lengthAdjust="spacingAndGlyphs" style="font-size:9.9px">0.00</text><text x="1200.8" y="562" textLength="35.5" lengthAdjust="spacingAndGlyphs" style="font-size:9.9px">-21.2836</text>
<g class="cr">
<path d="M3 600.5 H1197 M3 643.5 H1197" stroke="#c0c0c0" stroke-width="1" stroke-dasharray="3 3" fill="none"/>
<rect x="1198" y="600" width="2" height="1" fill="#000"/><rect x="1198" y="643" width="2" height="1" fill="#000"/>
<rect x="2" y="676" width="1" height="3" fill="#000"/><rect x="66" y="676" width="1" height="3" fill="#000"/><rect x="130" y="676" width="1" height="3" fill="#000"/><rect x="194" y="676" width="1" height="3" fill="#000"/><rect x="258" y="676" width="1" height="3" fill="#000"/><rect x="322" y="676" width="1" height="3" fill="#000"/><rect x="386" y="676" width="1" height="3" fill="#000"/><rect x="450" y="676" width="1" height="3" fill="#000"/><rect x="514" y="676" width="1" height="3" fill="#000"/><rect x="578" y="676" width="1" height="3" fill="#000"/><rect x="642" y="676" width="1" height="3" fill="#000"/><rect x="706" y="676" width="1" height="3" fill="#000"/><rect x="770" y="676" width="1" height="3" fill="#000"/><rect x="834" y="676" width="1" height="3" fill="#000"/><rect x="898" y="676" width="1" height="3" fill="#000"/><rect x="962" y="676" width="1" height="3" fill="#000"/><rect x="1026" y="676" width="1" height="3" fill="#000"/><rect x="1090" y="676" width="1" height="3" fill="#000"/><rect x="1154" y="676" width="1" height="3" fill="#000"/>
</g>
<g clip-path="url(#cr)">
<polyline points="2.5,633.9 10.5,621.5 18.5,618.1 26.5,621.5 34.5,627.5 42.5,626.2 50.5,627.5 58.5,630.6 66.5,620.8 74.5,617.5 82.5,616.4 90.5,613.4 98.5,615.4 106.5,616.4 114.5,618.1 122.5,619.8 130.5,637.3 138.5,624.5 146.5,623.2 154.5,618.5 162.5,618.1 170.5,610.4 178.5,610.4 186.5,610.4 194.5,607.7 202.5,607.4 210.5,606.4 218.5,606.4 226.5,604.3 234.5,602.7 242.5,602.3 250.5,602.3 258.5,606.0 266.5,613.8 274.5,618.5 282.5,617.1 290.5,613.4 298.5,613.4 306.5,614.8 314.5,611.4 322.5,607.0 330.5,602.3 338.5,607.0 346.5,610.4 354.5,609.0 362.5,612.4 370.5,611.4 378.5,617.8 386.5,616.4 394.5,612.7 402.5,611.4 410.5,604.7 418.5,610.4 426.5,607.4 434.5,608.4 442.5,606.0 450.5,602.3 458.5,603.3 466.5,601.0 474.5,595.3 482.5,597.3 490.5,596.3 498.5,594.6 506.5,596.3 514.5,595.6 522.5,597.3 530.5,595.3 538.5,597.3 546.5,603.3 554.5,603.3 562.5,603.3 570.5,601.0 578.5,604.7 586.5,621.5 594.5,617.5 602.5,617.1 610.5,613.4 618.5,610.4 626.5,613.4 634.5,602.3 642.5,603.3 650.5,604.3 658.5,606.4 666.5,611.4 674.5,626.5 682.5,625.5 690.5,621.5 698.5,620.5 706.5,629.6 714.5,617.1 722.5,612.4 730.5,615.4 738.5,614.4 746.5,610.1 754.5,623.5 762.5,637.3 770.5,637.3 778.5,648.1 786.5,644.4 794.5,645.7 802.5,649.5 810.5,649.5 818.5,646.6 826.5,647.3 834.5,644.8 842.5,636.2 850.5,638.3 858.5,626.1 866.5,623.2 874.5,625.4 882.5,618.2 890.5,621.4 898.5,618.2 906.5,621.1 914.5,621.4 922.5,626.8 930.5,635.1 938.5,638.3 946.5,635.1 954.5,638.3 962.5,625.4 970.5,615.3 978.5,614.2 986.5,618.9 994.5,622.5 1002.5,631.5 1010.5,635.8 1018.5,637.3 1026.5,635.1 1034.5,629.3 1042.5,629.3 1050.5,631.5 1058.5,622.9 1066.5,625.4 1074.5,629.3 1082.5,620.4 1090.5,617.1 1098.5,613.5 1106.5,608.9 1114.5,607.1 1122.5,611.0 1130.5,611.0 1138.5,612.1 1146.5,603.1 1154.5,602.7 1162.5,600.9 1170.5,600.2 1178.5,601.3" fill="none" stroke="#0f86ff" stroke-width="1" class="cr"/>
</g>
<text x="5.4" y="579.7" textLength="69.1" lengthAdjust="spacingAndGlyphs" style="font-size:9.9px">RSI(14) 69.6947</text>
<text x="1201.4" y="578.2" textLength="14.1" lengthAdjust="spacingAndGlyphs" style="font-size:9.9px">100</text><text x="1200.0" y="603.8" textLength="10.0" lengthAdjust="spacingAndGlyphs" style="font-size:9.9px">70</text><text x="1199.7" y="646.8" textLength="10.0" lengthAdjust="spacingAndGlyphs" style="font-size:9.9px">30</text><text x="1200.6" y="671.8" textLength="5.0" lengthAdjust="spacingAndGlyphs" style="font-size:9.9px">0</text>
<text x="0.6" y="687.8" textLength="45.4" lengthAdjust="spacingAndGlyphs" style="font-size:9.9px">3 Jan 2020</text><text x="64.6" y="687.8" textLength="48.0" lengthAdjust="spacingAndGlyphs" style="font-size:9.9px">6 Jan 12:00</text><text x="128.6" y="687.8" textLength="48.0" lengthAdjust="spacingAndGlyphs" style="font-size:9.9px">7 Jan 20:00</text><text x="192.6" y="687.8" textLength="48.0" lengthAdjust="spacingAndGlyphs" style="font-size:9.9px">9 Jan 04:00</text><text x="256.6" y="687.8" textLength="53.1" lengthAdjust="spacingAndGlyphs" style="font-size:9.9px">10 Jan 12:00</text><text x="320.6" y="687.8" textLength="53.1" lengthAdjust="spacingAndGlyphs" style="font-size:9.9px">13 Jan 16:00</text><text x="384.6" y="687.8" textLength="53.1" lengthAdjust="spacingAndGlyphs" style="font-size:9.9px">15 Jan 00:00</text><text x="448.6" y="687.8" textLength="53.1" lengthAdjust="spacingAndGlyphs" style="font-size:9.9px">16 Jan 08:00</text><text x="512.6" y="687.8" textLength="53.1" lengthAdjust="spacingAndGlyphs" style="font-size:9.9px">17 Jan 16:00</text><text x="576.6" y="687.8" textLength="53.1" lengthAdjust="spacingAndGlyphs" style="font-size:9.9px">20 Jan 23:00</text><text x="640.6" y="687.8" textLength="53.1" lengthAdjust="spacingAndGlyphs" style="font-size:9.9px">22 Jan 04:00</text><text x="704.6" y="687.8" textLength="53.1" lengthAdjust="spacingAndGlyphs" style="font-size:9.9px">23 Jan 12:00</text><text x="768.6" y="687.8" textLength="53.1" lengthAdjust="spacingAndGlyphs" style="font-size:9.9px">24 Jan 20:00</text><text x="832.6" y="687.8" textLength="53.1" lengthAdjust="spacingAndGlyphs" style="font-size:9.9px">28 Jan 00:00</text><text x="896.6" y="687.8" textLength="53.1" lengthAdjust="spacingAndGlyphs" style="font-size:9.9px">29 Jan 08:00</text><text x="960.6" y="687.8" textLength="53.1" lengthAdjust="spacingAndGlyphs" style="font-size:9.9px">30 Jan 16:00</text><text x="1024.6" y="687.8" textLength="49.0" lengthAdjust="spacingAndGlyphs" style="font-size:9.9px">2 Feb 23:00</text><text x="1088.6" y="687.8" textLength="49.0" lengthAdjust="spacingAndGlyphs" style="font-size:9.9px">4 Feb 04:00</text><text x="1152.6" y="687.8" textLength="49.0" lengthAdjust="spacingAndGlyphs" style="font-size:9.9px">5 Feb 12:00</text>
</svg>
</body></html>
